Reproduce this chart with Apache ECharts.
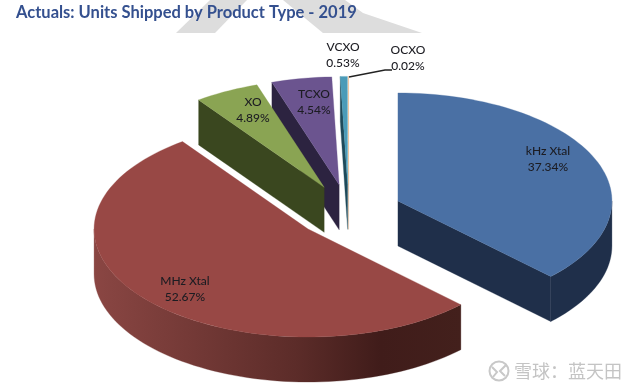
<!DOCTYPE html>
<html><head><meta charset="utf-8">
<style>html,body{margin:0;padding:0;background:#fff}#c{width:641px;height:391px}</style>
<script src="https://cdn.jsdelivr.net/npm/echarts@6/dist/echarts.min.js"></script>
</head><body><div id="c"></div>
<script>
const titleText = 'Actuals: Units Shipped by Product Type - 2019';
const categories = ['kHz Xtal', 'MHz Xtal', 'XO', 'TCXO', 'VCXO', 'OCXO'];
const shares = [37.34, 52.67, 4.89, 4.54, 0.53, 0.02];
const shareLabels = ['37.34%', '52.67%', '4.89%', '4.54%', '0.53%', '0.02%'];
const topColors = ['#4a70a4', '#984845', '#8aa453', '#6b548f', '#4a9bb8', '#f0c8a0'];
const sideColors = ['#1f2f4a', '#4a2220', '#3a471f', '#2c2340', '#1f4a5a', '#c89a70'];
const drawRank = [5, 4, 3, 2, 1, 0];
const labelAnchors = [[548, 159], [185, 289], [253, 110], [314, 102], [343, 55], [408, 58]];

const pie = { cx: 348.6, cy: 211.4, rx: 214, ry: 108, explode: 0.25, depth: 45 };
const total = shares.reduce((a, b) => a + b, 0);
const starts = [];
shares.reduce((acc, v, i) => { starts[i] = acc; return acc + v; }, 0);
const rad = d => d * Math.PI / 180;

function slicePoint(c, deg, dy) {
  return [c[0] + pie.rx * Math.sin(rad(deg)), c[1] - pie.ry * Math.cos(rad(deg)) + (dy || 0)];
}
function arc(c, a0, a1, dy) {
  const n = Math.max(2, Math.ceil((a1 - a0) / 2)), pts = [];
  for (let k = 0; k <= n; k++) pts.push(slicePoint(c, a0 + (a1 - a0) * k / n, dy));
  return pts;
}
function poly(points, fill, z2, stroke) {
  return { type: 'polygon', shape: { points }, z2,
    style: { fill, stroke: stroke || fill, lineWidth: stroke ? 0.6 : 0.3 }, silent: true };
}
function renderItem(params, api) {
  const i = params.dataIndex, v = api.value(0);
  const a0 = starts[i] / total * 360, a1 = a0 + v / total * 360, mid = (a0 + a1) / 2;
  const c = [pie.cx + pie.explode * pie.rx * Math.sin(rad(mid)),
             pie.cy - pie.explode * pie.ry * Math.cos(rad(mid))];
  const z = drawRank[i] * 10, kids = [];
  const radial = a => {
    const p = slicePoint(c, a);
    kids.push(poly([c, p, [p[0], p[1] + pie.depth], [c[0], c[1] + pie.depth]], sideColors[i], z));
  };
  if (Math.sin(rad(a0)) < 0) radial(a0);
  if (Math.sin(rad(a1)) > 0) radial(a1);
  const s0 = Math.max(a0, 90), s1 = Math.min(a1, 270);
  if (s1 > s0) {
    const pts = arc(c, s0, s1, 0).concat(arc(c, s0, s1, pie.depth).reverse());
    const fill = categories[i] === 'MHz Xtal'
      ? new echarts.graphic.LinearGradient(0, 0, 1, 0, [
          { offset: 0, color: '#8a4643' }, { offset: 0.55, color: '#5c2c29' },
          { offset: 0.78, color: '#401c1a' }, { offset: 1, color: '#43201c' }])
      : sideColors[i];
    kids.push(poly(pts, fill, z + 1));
  }
  kids.push(poly([c].concat(arc(c, a0, a1, 0)), topColors[i], z + 2, i === 5 ? topColors[i] : null));
  kids.push({ type: 'text', z2: 100, style: {
    text: categories[i] + '\n' + shareLabels[i], x: labelAnchors[i][0], y: labelAnchors[i][1],
    align: 'center', verticalAlign: 'middle', lineHeight: 16,
    font: '500 12px Lato', fill: '#1c1c22' } });
  return { type: 'group', children: kids };
}

const chart = echarts.init(document.getElementById('c'), null, { renderer: 'canvas' });
chart.setOption({
  animation: false,
  backgroundColor: '#fff',
  title: { text: titleText, left: 11, top: -1,
    textStyle: { fontFamily: 'Lato', fontWeight: 'bold', fontSize: 16.5, color: '#34508f' } },
  graphic: [
    { type: 'polygon', z: -1, shape: { points: [[176, 33], [215, 33], [247, 0], [210, 0]] }, style: { fill: '#dddddd' } },
    { type: 'polygon', z: -1, shape: { points: [[283, 0], [323, 33], [422, 33], [363, 13], [345, 0]] }, style: { fill: '#dddddd' } },
    { type: 'polyline', z: 5, shape: { points: [[349, 77], [385, 70], [392, 70]] }, style: { stroke: '#222', lineWidth: 1.3, fill: 'none' } },
    { type: 'circle', z: 5, shape: { cx: 499, cy: 371, r: 9.5 }, style: { fill: 'none', stroke: '#c8c8c8', lineWidth: 2 } },
    { type: 'polyline', z: 5, shape: { points: [[492, 367], [497, 372], [493, 377]] }, style: { fill: 'none', stroke: '#c8c8c8', lineWidth: 2 } },
    { type: 'polyline', z: 5, shape: { points: [[506, 365], [500, 371], [505, 376]] }, style: { fill: 'none', stroke: '#c8c8c8', lineWidth: 2 } },
    { type: 'text', z: 5, style: { text: '雪球：蓝天田', x: 514, y: 371, verticalAlign: 'middle',
      font: '18px "Noto Sans CJK SC"', fill: '#c4c4c4' } }
  ],
  series: [{
    type: 'custom', coordinateSystem: 'none', silent: true,
    data: shares.map((v, i) => ({ name: categories[i], value: [v] })),
    renderItem
  }]
});
</script></body></html>
